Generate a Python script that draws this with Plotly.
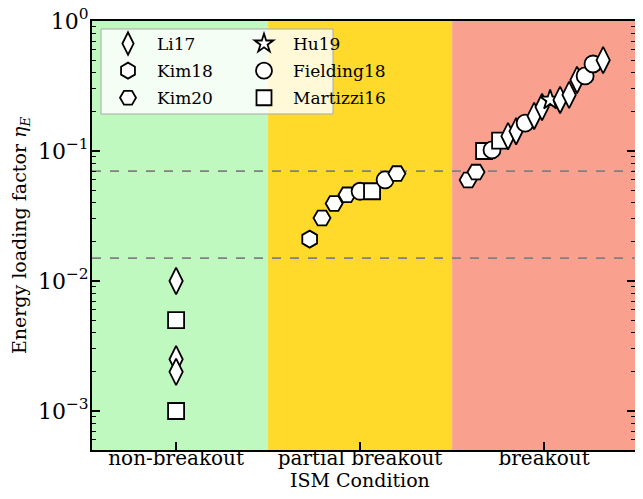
import plotly.graph_objects as go

# ---------------- data ----------------
categories = ["non-breakout", "partial breakout", "breakout"]

# each dataset: category index, small horizontal jitter offset, energy loading factor
li17_cat = [0, 0, 0, 2, 2, 2, 2, 2, 2, 2, 2]
li17_off = [0, 0, 0, -0.196, -0.152, -0.054, -0.011, 0.087, 0.136, 0.179, 0.321]
li17_eta = [0.01, 0.0025, 0.002, 0.13, 0.142, 0.186, 0.218, 0.247, 0.27, 0.352, 0.5]

hu19_cat = [2]
hu19_off = [0.033]
hu19_eta = [0.247]

kim18_cat = [1]
kim18_off = [-0.274]
kim18_eta = [0.021]

fielding18_cat = [1, 1, 2, 2, 2, 2]
fielding18_off = [0.0, 0.136, -0.283, -0.103, 0.223, 0.266]
fielding18_eta = [0.049, 0.06, 0.102, 0.164, 0.378, 0.467]

kim20_cat = [1, 1, 1, 1, 2, 2]
kim20_off = [-0.207, -0.141, -0.071, 0.2, -0.413, -0.370]
kim20_eta = [0.0305, 0.0395, 0.046, 0.067, 0.0598, 0.0688]

martizzi16_cat = [0, 0, 1, 2, 2]
martizzi16_off = [0, 0, 0.065, -0.326, -0.239]
martizzi16_eta = [0.005, 0.001, 0.049, 0.1, 0.12]

threshold_lines = [0.07, 0.015]
ytick_exponents = [-3, -2, -1, 0]

# ---------------- style ----------------
datasets = [
    ("Li17", li17_cat, li17_off, li17_eta, "diamond-tall", 19, "legend"),
    ("Kim18", kim18_cat, kim18_off, kim18_eta, "hexagon", 17, "legend"),
    ("Kim20", kim20_cat, kim20_off, kim20_eta, "hexagon2", 17, "legend"),
    ("Hu19", hu19_cat, hu19_off, hu19_eta, "star", 15, "legend2"),
    ("Fielding18", fielding18_cat, fielding18_off, fielding18_eta, "circle", 17, "legend2"),
    ("Martizzi16", martizzi16_cat, martizzi16_off, martizzi16_eta, "square", 16, "legend2"),
]

region_colors = ["#C0F9C0", "#FFDA2A", "#FAA08E"]
FONT = "DejaVu Serif"

# the page body adds an 8px margin; keep the figure inside the window (no scrollbars)
OFF = 8
W, H = 643 - 2 * OFF, 499 - 2 * OFF
TOP_PX, BOTTOM_PX = 21, 450          # plot area top / bottom in window pixels
L, R, T, B = 92 - OFF, 0, TOP_PX - OFF, H - (BOTTOM_PX - OFF)
PW, PH = W - L - R, H - T - B
UNIT = 184.0  # px per category
XMIN = -0.457
XMAX = XMIN + PW / UNIT


def px_x(p):  # window pixel -> paper x
    return (p - OFF - L) / PW


def px_y(p):  # window pixel -> paper y
    return (H - B - (p - OFF)) / PH


fig = go.Figure()

# background regions per category
for i, col in enumerate(region_colors):
    fig.add_shape(type="rect", xref="x", yref="paper",
                  x0=i - 0.5 if i > 0 else -1.0, x1=i + 0.5 if i < 2 else 3.0,
                  y0=0, y1=1, fillcolor=col, line_width=0, layer="below")

for v in threshold_lines:
    fig.add_shape(type="line", xref="paper", yref="y", x0=0, x1=1, y0=v, y1=v,
                  line=dict(color="gray", width=1.6, dash="dash"), layer="below")

# legend frame
fig.add_shape(type="rect", xref="paper", yref="paper",
              x0=px_x(101), x1=px_x(333), y0=px_y(114), y1=px_y(29),
              fillcolor="rgba(255,255,255,0.82)", line=dict(color="#A8A8A8", width=1),
              layer="below")

# combine all points so they stack in left-to-right order (as in the original)
pts = []
for name, cat, off, eta, sym, size, lg in datasets:
    for c, o, e in zip(cat, off, eta):
        pts.append((c + o, e, sym, size))
pts.sort(key=lambda p: p[0])

fig.add_trace(go.Scatter(
    x=[p[0] for p in pts], y=[p[1] for p in pts], mode="markers",
    marker=dict(symbol=[p[2] for p in pts], size=[p[3] for p in pts],
                color="white", opacity=1, line=dict(color="black", width=1.8)),
    opacity=1, showlegend=False, hoverinfo="x+y"))

# legend entries (two columns)
for name, cat, off, eta, sym, size, lg in datasets:
    fig.add_trace(go.Scatter(
        x=[None], y=[None], mode="markers", name=name, legend=lg, legendgroup=name,
        marker=dict(symbol=sym, size=min(size - 1, 17), color="white", opacity=1,
                    line=dict(color="black", width=1.8))))

leg_common = dict(xanchor="left", yanchor="top", bgcolor="rgba(0,0,0,0)",
                  borderwidth=0, itemwidth=48, tracegroupgap=2,
                  font=dict(family=FONT, size=17))

fig.update_layout(
    width=W, height=H,
    margin=dict(l=L, r=R, t=T, b=B, autoexpand=False),
    paper_bgcolor="white", plot_bgcolor="white",
    font=dict(family=FONT, size=19, color="black"),
    legend=dict(x=px_x(99), y=px_y(26), **leg_common),
    legend2=dict(x=px_x(235), y=px_y(26), **leg_common),
    annotations=[dict(text="ISM Condition", xref="paper", yref="paper",
                      x=px_x(360), y=px_y(480), xanchor="center",
                      yanchor="middle", showarrow=False, font=dict(size=19))],
)

fig.update_xaxes(
    range=[XMIN, XMAX], tickvals=[0, 1, 2], ticktext=categories,
    tickfont=dict(size=20), ticklabelstandoff=-11,
    ticks="inside", ticklen=8, tickwidth=1.5, tickcolor="black",
    showline=True, linecolor="black", linewidth=2, mirror=True,
    showgrid=False, zeroline=False, automargin=False,
)

fig.update_yaxes(
    type="log", range=[-3.30, 0],
    tickvals=[10.0 ** e for e in ytick_exponents],
    ticktext=["10<sup>%s</sup>" % (str(e).replace("-", "\u2212")) for e in ytick_exponents],
    tickfont=dict(size=22), ticklabeloverflow="allow", ticklabelstandoff=-3,
    ticks="inside", ticklen=8, tickwidth=1.5, tickcolor="black",
    minor=dict(ticks="inside", ticklen=4, tickwidth=1.2, tickcolor="black",
               tickvals=[m * 10.0 ** k for k in range(-4, 0) for m in range(2, 10)]),
    showline=True, linecolor="black", linewidth=2, mirror="ticks",
    showgrid=False, zeroline=False, automargin=False,
    title=dict(text="Energy loading factor <i>η<sub>E</sub></i>", standoff=6, font=dict(size=19)),
)

fig.write_html("out.html")
